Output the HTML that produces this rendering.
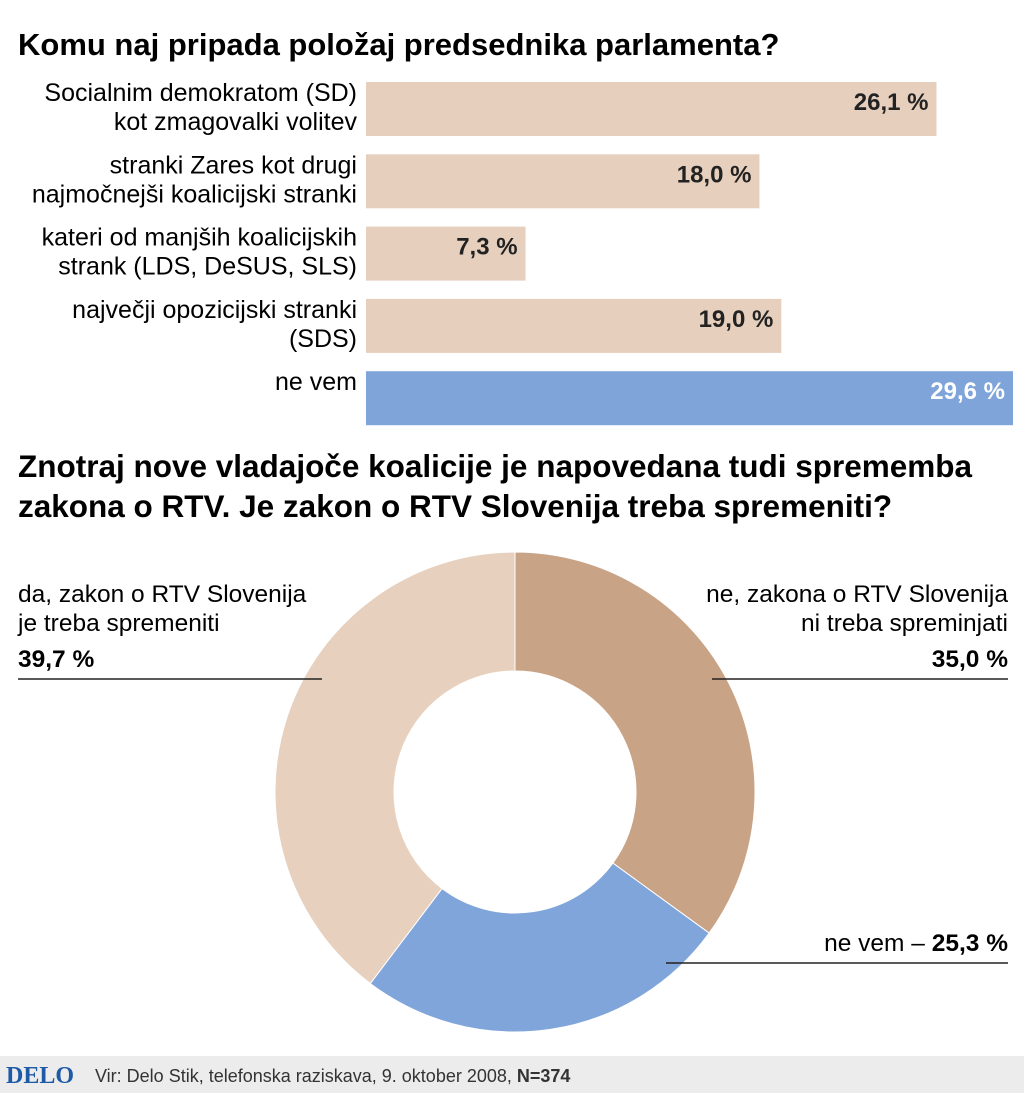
<!DOCTYPE html>
<html><head><meta charset="utf-8"><style>
body{margin:0;width:1024px;height:1093px;background:#fff;overflow:hidden;font-family:"Liberation Sans Narrow","Liberation Sans",sans-serif;color:#222}
svg{position:absolute;left:0;top:0}
</style></head><body>
<svg width="1024" height="1093">
<text x="18" y="55" font-size="31" font-weight="bold">Komu naj pripada položaj predsednika parlamenta?</text>
<g id="bars"></g>
<text x="18" y="477" font-size="31.5" font-weight="bold">Znotraj nove vladajoče koalicije je napovedana tudi sprememba</text>
<text x="18" y="517" font-size="31.5" font-weight="bold">zakona o RTV. Je zakon o RTV Slovenija treba spremeniti?</text>
<g id="donut"></g>
<g font-size="24.5">
<text x="18" y="602">da, zakon o RTV Slovenija</text>
<text x="18" y="631">je treba spremeniti</text>
<text x="18" y="667" font-weight="bold">39,7 %</text>
<line x1="18" y1="679" x2="322" y2="679" stroke="#222" stroke-width="1.5"/>
<text x="1008" y="602" text-anchor="end">ne, zakona o RTV Slovenija</text>
<text x="1008" y="631" text-anchor="end">ni treba spreminjati</text>
<text x="1008" y="667" text-anchor="end" font-weight="bold">35,0 %</text>
<line x1="712" y1="679" x2="1008" y2="679" stroke="#222" stroke-width="1.5"/>
<text x="1008" y="951" text-anchor="end">ne vem – <tspan font-weight="bold">25,3 %</tspan></text>
<line x1="666" y1="963" x2="1008" y2="963" stroke="#222" stroke-width="1.5"/>
</g>
<rect x="0" y="1056" width="1024" height="37" fill="#ececec"/>
<text x="6" y="1083" font-family="Liberation Serif,serif" font-weight="bold" font-size="24" fill="#1f5aa6">DELO</text>
<text x="95" y="1082" font-size="18" fill="#333">Vir: Delo Stik, telefonska raziskava, 9. oktober 2008, <tspan font-weight="bold">N=374</tspan></text>
</svg>
<script>
const barLabels=[["Socialnim demokratom (SD)","kot zmagovalki volitev"],["stranki Zares kot drugi","najmočnejši koalicijski stranki"],["kateri od manjših koalicijskih","strank (LDS, DeSUS, SLS)"],["največji opozicijski stranki","(SDS)"],["ne vem"]];
const barValues=[26.1,18.0,7.3,19.0,29.6];
const barText=["26,1 %","18,0 %","7,3 %","19,0 %","29,6 %"];
const donutValues=[35.0,25.3,39.7];
const donutNames=["ne","ne-vem","da"];
const NS="http://www.w3.org/2000/svg";
function mk(t,a,p){const e=document.createElementNS(NS,t);for(const k in a)e.setAttribute(k,a[k]);p.appendChild(e);return e;}
const x0=366,scale=647/29.6;
const xS=v=>v*scale, yS=i=>82+i*72.3;
const bg=document.getElementById('bars');
barValues.forEach((v,i)=>{
 const last=i===barValues.length-1;
 const r=mk('rect',{x:x0,y:yS(i),width:xS(v),height:54,fill:last?'#7fa4d9':'#e6cfbd'},bg);
 
 
 const t=mk('text',{x:x0+xS(v)-8,y:yS(i)+28,'text-anchor':'end','font-size':24,'font-weight':'bold',fill:last?'#fff':'#222'},bg);
 t.textContent=barText[i];
 
 
 barLabels[i].forEach((l,j)=>{
  const lt=mk('text',{x:357,y:yS(i)+19+j*29,'text-anchor':'end','font-size':25},bg);
  lt.textContent=l;
  
  
 });
});
const dg=document.getElementById('donut');
const cx=515,cy=792,R=240,r0=121,cols=['#c9a385','#80a5da','#e7d0bd'];
const tot=donutValues.reduce((a,b)=>a+b,0);
let a=0;
const pt=(ang,rad)=>[cx+rad*Math.sin(ang),cy-rad*Math.cos(ang)];
donutValues.forEach((v,i)=>{
 const a1=a+v/tot*2*Math.PI;const lg=(a1-a)>Math.PI?1:0;
 const [x1,y1]=pt(a,R),[x2,y2]=pt(a1,R),[x3,y3]=pt(a1,r0),[x4,y4]=pt(a,r0);
 const p=mk('path',{d:`M${x1},${y1}A${R},${R} 0 ${lg} 1 ${x2},${y2}L${x3},${y3}A${r0},${r0} 0 ${lg} 0 ${x4},${y4}Z`,fill:cols[i],stroke:'#fff','stroke-width':1},dg);
 
 
 a=a1;
});
</script>
</body></html>
